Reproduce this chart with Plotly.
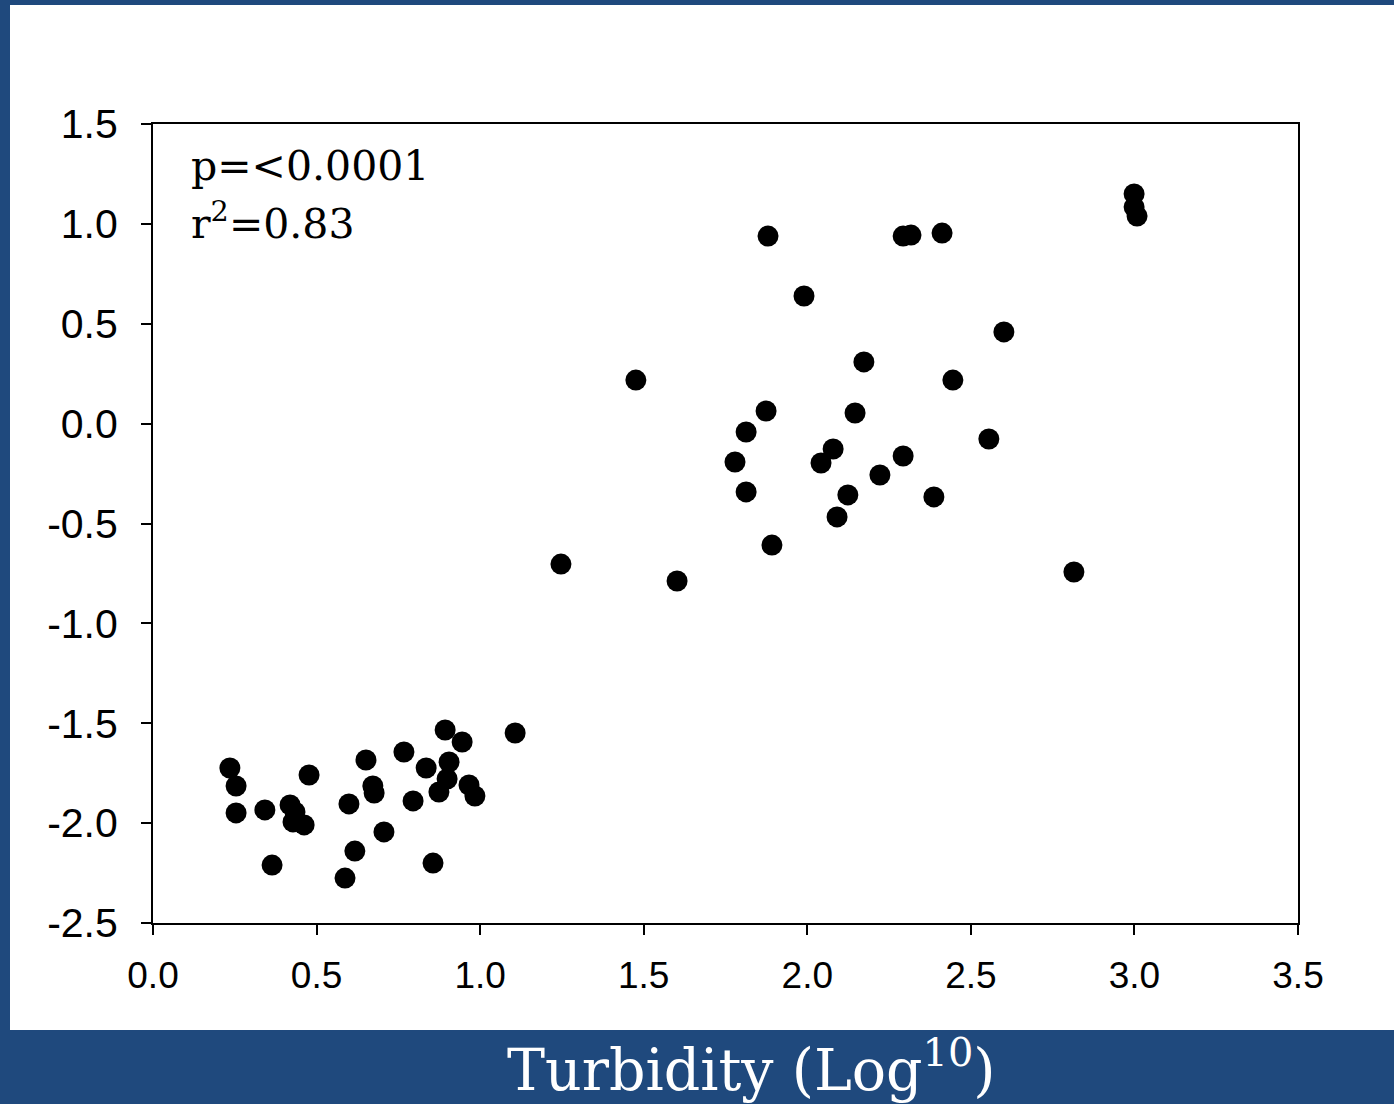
import plotly.graph_objects as go

# Data
turbidity_log = [0.235, 0.254, 0.254, 0.342, 0.364, 0.419, 0.434, 0.428, 0.462, 0.477,
                 0.587, 0.599, 0.617, 0.651, 0.672, 0.676, 0.706, 0.767, 0.795, 0.835,
                 0.856, 0.874, 0.893, 0.905, 0.899, 0.945, 0.966, 0.984, 1.107, 1.247,
                 1.476, 1.602, 1.779, 1.813, 1.813, 1.874, 1.880, 1.892, 1.990, 2.042,
                 2.079, 2.091, 2.124, 2.146, 2.173, 2.222, 2.293, 2.293, 2.317, 2.387,
                 2.412, 2.445, 2.555, 2.601, 2.815, 2.999, 2.999, 3.008]
response_log = [-1.724, -1.814, -1.949, -1.934, -2.210, -1.909, -1.944, -1.994, -2.009, -1.759,
                -2.275, -1.904, -2.140, -1.684, -1.814, -1.849, -2.044, -1.644, -1.889, -1.724,
                -2.200, -1.844, -1.534, -1.694, -1.779, -1.594, -1.809, -1.864, -1.549, -0.703,
                0.218, -0.788, -0.192, -0.042, -0.342, 0.063, 0.939, -0.608, 0.639, -0.197,
                -0.127, -0.467, -0.357, 0.053, 0.309, -0.257, -0.162, 0.939, 0.944, -0.367,
                0.954, 0.218, -0.077, 0.459, -0.743, 1.150, 1.084, 1.039]

x_ticks = [0.0, 0.5, 1.0, 1.5, 2.0, 2.5, 3.0, 3.5]
y_ticks = [1.5, 1.0, 0.5, 0.0, -0.5, -1.0, -1.5, -2.0, -2.5]
stats_p = "p=<0.0001"
stats_r2 = "r<sup>2</sup>=0.83"
x_title = "Turbidity (Log<sup>10</sup>)"

BLUE = "#1F497D"
W, H = 1394, 1104
L, R, T, B = 153, 96, 124, 181
pw, ph = W - L - R, H - T - B

def px_x(px):
    return (px - L) / pw

def px_y(py):
    return (H - B - py) / ph

fig = go.Figure()
fig.add_trace(go.Scatter(
    x=turbidity_log, y=response_log, mode="markers",
    marker=dict(color="black", size=21, line=dict(width=0)),
    showlegend=False, hoverinfo="x+y",
))

fig.add_shape(type="rect", xref="paper", yref="paper",
              x0=px_x(10), x1=px_x(W + 5), y0=px_y(1030), y1=px_y(5),
              fillcolor="white", line=dict(width=0), layer="below")

fig.add_annotation(text=stats_p, xref="paper", yref="paper", x=px_x(189), y=px_y(166),
                   xanchor="left", yanchor="middle", showarrow=False,
                   font=dict(family="DejaVu Serif", size=41, color="black"))
fig.add_annotation(text=stats_r2, xref="paper", yref="paper", x=px_x(189), y=px_y(221),
                   xanchor="left", yanchor="middle", showarrow=False,
                   font=dict(family="DejaVu Serif", size=41, color="black"))
fig.add_annotation(text=x_title, xref="paper", yref="paper", x=px_x(751), y=px_y(1066),
                   xanchor="center", yanchor="middle", showarrow=False,
                   font=dict(family="DejaVu Serif", size=57, color="white"))

fig.update_xaxes(
    range=[0, 3.5], tickvals=x_ticks, ticktext=[f"{v:.1f}" for v in x_ticks],
    showgrid=False, zeroline=False, showline=True, linecolor="black", linewidth=2,
    mirror=True, ticks="outside", ticklen=10, tickwidth=2, tickcolor="black",
    tickfont=dict(family="Liberation Sans, Arial", size=37, color="black"),
    ticklabelstandoff=9,
)
fig.update_yaxes(
    range=[-2.5, 1.5], tickvals=y_ticks, ticktext=[f"{v:.1f}" for v in y_ticks],
    showgrid=False, zeroline=False, showline=True, linecolor="black", linewidth=2,
    mirror=True, ticks="outside", ticklen=10, tickwidth=2, tickcolor="black",
    tickfont=dict(family="Liberation Sans, Arial", size=41, color="black"),
    ticklabelstandoff=15,
)

fig.update_layout(
    width=W, height=H,
    margin=dict(l=L, r=R, t=T, b=B, pad=0),
    paper_bgcolor=BLUE, plot_bgcolor="white",
)

fig.write_html(
    "out.html",
    config={"displayModeBar": False},
    post_script="document.body.style.margin='0';document.body.style.background='%s';" % BLUE,
)
